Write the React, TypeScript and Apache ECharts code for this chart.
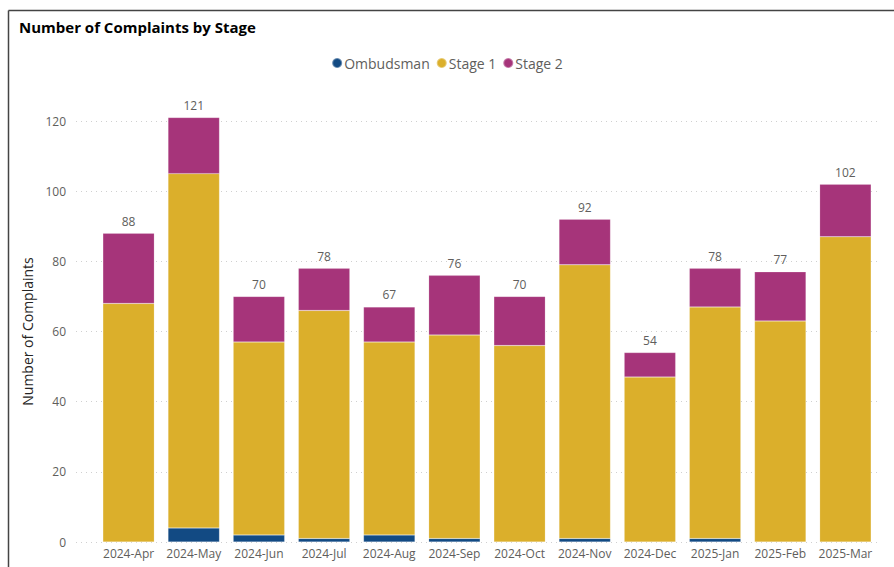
import React, { useEffect, useRef } from "react";
import * as echarts from "echarts";

const categories = ["2024-Apr", "2024-May", "2024-Jun", "2024-Jul", "2024-Aug", "2024-Sep", "2024-Oct", "2024-Nov", "2024-Dec", "2025-Jan", "2025-Feb", "2025-Mar"];
const ombudsman = [0, 4, 2, 1, 2, 1, 0, 1, 0, 1, 0, 0];
const stage1 = [68, 101, 55, 65, 55, 58, 56, 78, 47, 66, 63, 87];
const stage2 = [20, 16, 13, 12, 10, 17, 14, 13, 7, 11, 14, 15];
const totals = categories.map((_, i) => ombudsman[i] + stage1[i] + stage2[i]);
const yTicks = [0, 20, 40, 60, 80, 100, 120];

const FONT = "'Open Sans', 'Noto Sans', sans-serif";

export default function App() {
  const ref = useRef<HTMLDivElement>(null);
  useEffect(() => {
    if (!ref.current) return;
    const chart = echarts.init(ref.current, null, { renderer: "svg" });
    const gridTop = 121;
    const gridBottom = 567 - 542;
    const barBorder = "rgba(255,255,255,0.35)";
    chart.setOption({
      animation: false,
      textStyle: { fontFamily: FONT },
      title: {
        text: "Number of Complaints by Stage",
        left: 14,
        top: 14,
        textStyle: { fontSize: 15, fontWeight: "bold", color: "#000", fontFamily: FONT },
      },
      legend: {
        top: 51,
        left: "center",
        icon: "circle",
        itemWidth: 10,
        itemHeight: 10,
        itemGap: 6,
        textStyle: { fontSize: 14, color: "#605E5C", fontFamily: FONT, padding: [0, 0, 0, -3] },
        data: ["Ombudsman", "Stage 1", "Stage 2"],
      },
      graphic: [
        { type: "line", shape: { x1: 8.5, y1: 10.5, x2: 894, y2: 10.5 }, style: { stroke: "#444", lineWidth: 1.5 } },
        { type: "line", shape: { x1: 8.5, y1: 10.5, x2: 8.5, y2: 567 }, style: { stroke: "#444", lineWidth: 1.5 } },
      ],
      grid: [
        { left: 96, right: 16, top: gridTop, bottom: gridBottom, containLabel: false },
        { left: 76, right: 14, top: gridTop, bottom: gridBottom, containLabel: false },
      ],
      xAxis: [
        {
          type: "category",
          gridIndex: 0,
          data: categories,
          axisLine: { show: false },
          axisTick: { show: false },
          axisLabel: { color: "#605E5C", fontSize: 12, margin: 5, fontFamily: FONT, interval: 0 },
        },
        { type: "value", gridIndex: 1, show: false, min: 0, max: 1 },
      ],
      yAxis: [
        {
          type: "value",
          gridIndex: 0,
          min: 0,
          max: 120,
          interval: 20,
          axisLabel: { show: false },
          splitLine: { show: false },
          axisLine: { show: false },
          axisTick: { show: false },
        },
        {
          type: "value",
          gridIndex: 1,
          min: yTicks[0],
          max: yTicks[yTicks.length - 1],
          interval: 20,
          axisLabel: { color: "#605E5C", fontSize: 12, margin: 10, fontFamily: FONT },
          splitLine: { show: true, lineStyle: { color: "#D0D0D0", type: [1, 4], width: 1 } },
          axisLine: { show: false },
          axisTick: { show: false },
          name: "Number of Complaints",
          nameLocation: "middle",
          nameGap: 38,
          nameRotate: 90,
          nameTextStyle: { color: "#252423", fontSize: 14, fontFamily: FONT },
        },
      ],
      series: [
        {
          name: "Ombudsman",
          type: "bar",
          stack: "s",
          xAxisIndex: 0,
          yAxisIndex: 0,
          barCategoryGap: "21%",
          clip: false,
          data: ombudsman,
          itemStyle: { color: "#124A83", borderColor: barBorder, borderWidth: 0.5 },
        },
        {
          name: "Stage 1",
          type: "bar",
          stack: "s",
          xAxisIndex: 0,
          yAxisIndex: 0,
          barCategoryGap: "21%",
          clip: false,
          data: stage1,
          itemStyle: { color: "#DBAF2B", borderColor: barBorder, borderWidth: 0.5 },
        },
        {
          name: "Stage 2",
          type: "bar",
          stack: "s",
          xAxisIndex: 0,
          yAxisIndex: 0,
          barCategoryGap: "21%",
          clip: false,
          data: stage2,
          itemStyle: { color: "#A6347A", borderColor: barBorder, borderWidth: 0.5 },
          label: {
            show: true,
            position: "top",
            distance: 6,
            color: "#605E5C",
            fontSize: 12,
            fontFamily: FONT,
            formatter: (p: any) => String(totals[p.dataIndex]),
          },
        },
      ],
    });
    return () => chart.dispose();
  }, []);
  return (
    <div
      ref={ref}
      style={{ position: "absolute", left: 0, top: 0, width: 894, height: 567, background: "#fff" }}
    />
  );
}
